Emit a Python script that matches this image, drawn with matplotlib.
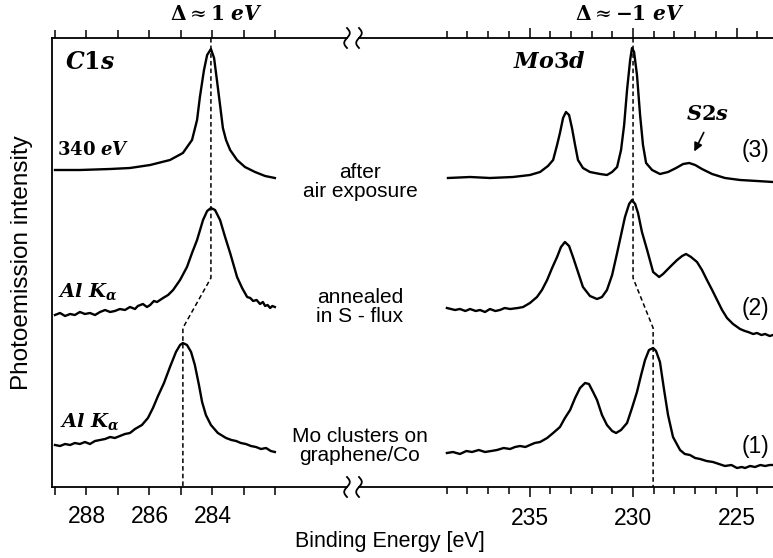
import numpy as np
import matplotlib
matplotlib.use("Agg")
import matplotlib.pyplot as plt
from matplotlib.lines import Line2D
from matplotlib.patches import FancyArrowPatch

plt.rcParams["font.family"] = ["Liberation Sans", "DejaVu Sans"]
plt.rcParams["mathtext.fontset"] = "dejavuserif"

# --- datos (intensidad en unidades arbitrarias) ---
# C1s
c1s_e3 = [289.00, 288.21, 287.25, 286.62, 285.98, 285.35, 284.94, 284.65, 284.49, 284.40,
          284.27, 284.17, 284.05, 283.95, 283.86, 283.76, 283.67, 283.57, 283.44, 283.22,
          282.97, 282.65, 282.33, 282.02]
c1s_i3 = [317, 317, 318, 319, 322, 327, 334, 347, 367, 390,
          417, 432, 438, 429, 407, 382, 359, 347, 337, 327,
          320, 315, 311, 309]

c1s_e2 = [289.00, 288.84, 288.68, 288.52, 288.37, 288.21, 288.05, 287.89, 287.73, 287.57,
          287.41, 287.25, 287.10, 286.94, 286.78, 286.62, 286.46, 286.37, 286.21, 286.08,
          285.98, 285.86, 285.76, 285.57, 285.41, 285.25, 285.03, 284.81, 284.65, 284.49,
          284.30, 284.17, 284.05, 283.92, 283.76, 283.60, 283.44, 283.22, 283.06, 282.90,
          282.80, 282.71, 282.60, 282.49, 282.40, 282.33, 282.25, 282.17, 282.10, 282.02]
c1s_i2 = [172, 174, 171, 173, 172, 175, 173, 174, 172, 175,
          177, 175, 176, 178, 177, 180, 178, 181, 183, 180,
          182, 186, 185, 189, 192, 197, 207, 220, 234, 247,
          267, 276, 279, 277, 267, 250, 234, 210, 199, 190,
          189, 186, 187, 183, 185, 181, 182, 179, 181, 180]

c1s_e1 = [289.00, 288.84, 288.68, 288.52, 288.37, 288.21, 288.05, 287.89, 287.73, 287.57,
          287.41, 287.25, 287.10, 286.94, 286.78, 286.62, 286.46, 286.24, 286.05, 285.89,
          285.73, 285.54, 285.35, 285.16, 285.03, 284.94, 284.81, 284.68, 284.56, 284.43,
          284.33, 284.21, 284.05, 283.83, 283.57, 283.40, 283.25, 283.10, 282.94, 282.78,
          282.62, 282.46, 282.30, 282.15, 282.02]
c1s_i1 = [42, 41, 43, 42, 44, 43, 45, 43, 46, 47,
          48, 50, 49, 51, 53, 54, 58, 62, 69, 79,
          91, 104, 120, 135, 142, 144, 142, 135, 122, 102,
          85, 72, 62, 54, 49, 47, 46, 44, 43, 41,
          40, 38, 39, 36, 35]

# Mo3d
mo_e3 = [238.94, 237.87, 236.91, 235.80, 234.98, 234.49, 234.11, 233.86, 233.67, 233.53,
         233.38, 233.24, 233.09, 232.95, 232.80, 232.66, 232.42, 232.08, 231.59, 231.26,
         231.01, 230.77, 230.58, 230.43, 230.29, 230.14, 230.05, 229.95, 229.81, 229.66,
         229.52, 229.37, 229.08, 228.70, 228.31, 227.92, 227.58, 227.29, 227.00, 226.67,
         226.18, 225.56, 224.83, 224.01, 223.24]
mo_i3 = [309, 310, 309, 310, 312, 315, 321, 327, 342, 354,
         369, 375, 372, 359, 342, 327, 319, 315, 313, 312,
         315, 320, 337, 362, 397, 427, 439, 435, 412, 372,
         342, 324, 317, 313, 315, 319, 323, 324, 322, 318,
         313, 309, 307, 306, 305]

mo_e2 = [238.99, 238.60, 238.36, 238.10, 237.87, 237.60, 237.39, 237.15, 236.91, 236.65,
         236.43, 236.20, 235.94, 235.56, 235.31, 234.98, 234.64, 234.40, 234.15, 233.91,
         233.67, 233.48, 233.29, 233.09, 232.90, 232.66, 232.42, 232.08, 231.74, 231.50,
         231.26, 231.01, 230.77, 230.58, 230.39, 230.19, 230.05, 229.90, 229.76, 229.57,
         229.32, 229.03, 228.74, 228.55, 228.36, 228.12, 227.87, 227.63, 227.44, 227.20,
         226.91, 226.67, 226.43, 226.18, 225.94, 225.70, 225.46, 225.17, 224.83, 224.60,
         224.44, 224.20, 224.01, 223.80, 223.62, 223.40, 223.24]
mo_i2 = [179, 177, 178, 176, 178, 176, 177, 175, 178, 176,
         177, 179, 178, 179, 180, 184, 190, 197, 207, 219,
         230, 240, 245, 241, 230, 215, 200, 191, 188, 190,
         197, 212, 234, 252, 270, 283, 287, 283, 274, 255,
         237, 215, 210, 213, 217, 222, 227, 231, 233, 230,
         225, 217, 207, 197, 187, 177, 169, 163, 158, 156,
         155, 153, 154, 152, 153, 151, 152]

mo_e1 = [238.99, 238.70, 238.36, 238.05, 237.78, 237.45, 237.15, 236.85, 236.57, 236.25,
         235.94, 235.70, 235.46, 235.20, 234.98, 234.75, 234.49, 234.15, 233.86, 233.53,
         233.29, 233.04, 232.80, 232.56, 232.32, 232.13, 231.93, 231.74, 231.50, 231.26,
         231.01, 230.82, 230.58, 230.29, 230.05, 229.81, 229.61, 229.42, 229.23, 229.03,
         228.89, 228.70, 228.50, 228.31, 228.07, 227.73, 227.50, 227.25, 227.00, 226.76,
         226.45, 226.14, 225.85, 225.56, 225.25, 224.98, 224.75, 224.59, 224.35, 224.11,
         223.85, 223.62, 223.40, 223.24]
mo_i1 = [34, 35, 33, 36, 35, 37, 35, 36, 37, 39,
         38, 40, 41, 40, 42, 44, 45, 49, 54, 60,
         69, 77, 89, 99, 104, 103, 95, 87, 72, 62,
         56, 54, 57, 64, 79, 95, 112, 127, 137, 139,
         136, 125, 97, 72, 50, 37, 33, 32, 29, 28,
         26, 25, 23, 21, 22, 19, 20, 19, 21, 20,
         22, 21, 22, 22]

# lineas guia (desplazamiento del pico)
guia_c1s_e = [284.05, 284.05, 284.94, 284.94]
guia_mo_e = [230.00, 230.00, 229.03, 229.03]
guia_i = [449, 209, 159, 0]

W, H = 773, 558
fig = plt.figure(figsize=(W / 100, H / 100), dpi=100)

y0, y1 = 38, 487
alto = (y1 - y0) / H
base = 1 - y1 / H
ax1 = fig.add_axes([52 / W, base, (347 - 52) / W, alto])
ax2 = fig.add_axes([359 / W, base, 1 - 359 / W, alto])

lw = 1.7
for e, i in [(c1s_e3, c1s_i3), (c1s_e2, c1s_i2), (c1s_e1, c1s_i1)]:
    ax1.plot(e, i, color="black", lw=lw, solid_joinstyle="round")
for e, i in [(mo_e3, mo_i3), (mo_e2, mo_i2), (mo_e1, mo_i1)]:
    ax2.plot(e, i, color="black", lw=lw, solid_joinstyle="round")

ax1.plot(guia_c1s_e, guia_i, color="black", lw=1.1, ls=(0, (3, 2)))
ax2.plot(guia_mo_e, guia_i, color="black", lw=1.1, ls=(0, (3, 2)))

ax1.set_xlim(289.095, 284 - (347 - 212.5) / 31.5)
ax2.set_xlim(230 - (359 - 633) / 20.7, 223.24)
for ax in (ax1, ax2):
    ax.set_ylim(0, 449)
    ax.set_yticks([])
    ax.spines["right"].set_visible(False)
    for s in ax.spines.values():
        s.set_linewidth(1.3)
    ax.tick_params(axis="x", which="both", direction="out", top=True,
                   width=1.1, labelsize=16.5, pad=7)
ax2.spines["left"].set_visible(False)

ax1.set_xticks([288, 286, 284])
ax1.set_xticks([289, 287, 285, 283, 282], minor=True)
ax1.tick_params(axis="x", which="both", length=6)
ax2.set_xticks([235, 230, 225])
ax2.set_xticks(list(range(239, 223, -1)), minor=True)
ax2.tick_params(axis="x", which="major", length=7.5)
ax2.tick_params(axis="x", which="minor", length=5)

# simbolos de corte del eje
t = np.linspace(-1, 1, 25)
for xc in (347, 359):
    for yc in (y0, y1):
        xs = (xc + 2.8 * np.sin(np.pi * t)) / W
        ys = 1 - (yc - 10 * t) / H
        fig.add_artist(Line2D(xs, ys, color="black", lw=1.3, transform=fig.transFigure))

# textos
sans = 15
fig.text(390 / W, 1 - 541 / H, "Binding Energy [eV]", ha="center", va="center", fontsize=15.5)
fig.text(22 / W, 1 - 263 / H, "Photoemission intensity", ha="center", va="center",
         rotation=90, fontsize=17.5)
fig.text(216 / W, 1 - 15 / H, r"$\mathbf{\Delta} \approx \mathbf{1}\ \boldsymbol{eV}$",
         ha="center", va="center", fontsize=14.5)
fig.text(630 / W, 1 - 15 / H, r"$\mathbf{\Delta} \approx \mathbf{-1}\ \boldsymbol{eV}$",
         ha="center", va="center", fontsize=14.5)

fig.text(65 / W, 1 - 63 / H, r"$\boldsymbol{C1s}$", ha="left", va="center", fontsize=17)
fig.text(513 / W, 1 - 63 / H, r"$\boldsymbol{Mo3d}$", ha="left", va="center", fontsize=16)
fig.text(57 / W, 1 - 150 / H, r"$\mathbf{340}\ \boldsymbol{eV}$", ha="left", va="center", fontsize=13)
ak = r"$\boldsymbol{Al}\ \boldsymbol{K}_{\boldsymbol{\alpha}}$"
fig.text(58 / W, 1 - 292 / H, ak, ha="left", va="center", fontsize=14)
fig.text(60 / W, 1 - 422 / H, ak, ha="left", va="center", fontsize=14)
fig.text(686 / W, 1 - 115 / H, r"$\boldsymbol{S2s}$", ha="left", va="center", fontsize=15)
fig.add_artist(FancyArrowPatch(
    (705 / W, 1 - 130 / H), (693 / W, 1 - 154 / H), transform=fig.transFigure,
    arrowstyle="-|>,head_length=5,head_width=2.5", color="black", lw=1.2))

for yc, lab in [(150, "(3)"), (308, "(2)"), (447, "(1)")]:
    fig.text(742 / W, 1 - yc / H, lab, ha="left", va="center", fontsize=16.5)

for yc, lab in [(182, "after\nair exposure"), (307, "annealed\nin S - flux"),
                (446, "Mo clusters on\ngraphene/Co")]:
    fig.text(360 / W, 1 - yc / H, lab, ha="center", va="center", fontsize=sans,
             linespacing=1.0)

fig.savefig("out.png", dpi=100)
